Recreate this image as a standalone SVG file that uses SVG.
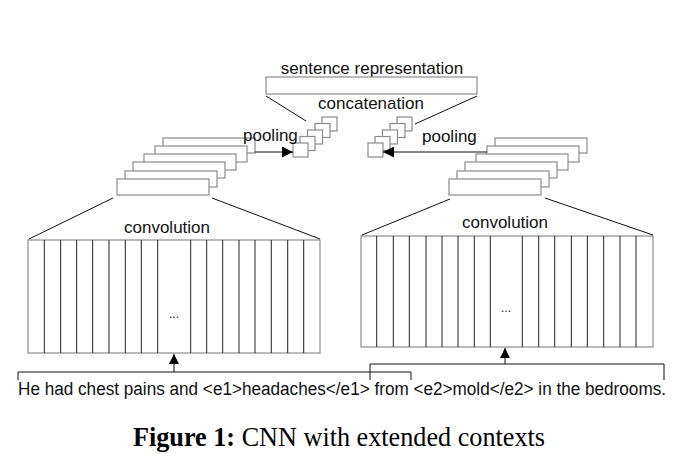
<svg xmlns="http://www.w3.org/2000/svg" width="680" height="469" viewBox="0 0 680 469">
<defs>
<style>
.box{fill:#fff;stroke:#8c8c8c;stroke-width:1.2}
.cell{stroke:#222;stroke-width:1}
.ln{stroke:#111;stroke-width:1;fill:none}
.lbl{font-family:"Liberation Sans",Arial,sans-serif;font-size:17px;fill:#111}
.dots{font-family:"Liberation Sans",Arial,sans-serif;font-size:12px;fill:#111}
</style>
<marker id="ah" viewBox="0 0 10 10" refX="10" refY="5" markerWidth="10" markerHeight="11" markerUnits="userSpaceOnUse" orient="auto"><path d="M0,0 L10,5 L0,10 z" fill="#000"/></marker>
<marker id="ahp" viewBox="0 0 10 10" refX="10" refY="5" markerWidth="15" markerHeight="11" markerUnits="userSpaceOnUse" orient="auto"><path d="M0,0 L10,5 L0,10 z" fill="#000"/></marker>
</defs>
<rect width="680" height="469" fill="#fff"/>

<g id="sentence-representation">
<text class="lbl" x="372" y="74" text-anchor="middle">sentence representation</text>
<rect class="box" x="266" y="77" width="211" height="17"/>
</g>

<g id="concatenation">
<text class="lbl" x="371" y="109" text-anchor="middle">concatenation</text>
</g>

<g id="pool-left">
<rect class="box" x="322" y="117" width="15" height="14"/>
<rect class="box" x="315" y="123.5" width="15" height="14"/>
<rect class="box" x="307.5" y="130" width="15" height="14"/>
<rect class="box" x="300" y="136.5" width="15" height="14"/>
<rect class="box" x="293" y="143" width="15" height="14"/>
</g>

<g id="pool-right">
<rect class="box" x="397" y="117" width="15" height="14"/>
<rect class="box" x="390" y="123.5" width="15" height="14"/>
<rect class="box" x="382.5" y="130" width="15" height="14"/>
<rect class="box" x="375" y="136.5" width="15" height="14"/>
<rect class="box" x="368" y="143" width="15" height="14"/>
</g>

<g id="feature-maps-left">
<rect class="box" x="163" y="138" width="92" height="15"/>
<rect class="box" x="155" y="146" width="92" height="16"/>
<rect class="box" x="144" y="154" width="92" height="16"/>
<rect class="box" x="133" y="162" width="92" height="16"/>
<rect class="box" x="125" y="171" width="92" height="16"/>
<rect class="box" x="117" y="179" width="92" height="16"/>
</g>

<g id="feature-maps-right">
<rect class="box" x="495" y="138" width="92" height="15"/>
<rect class="box" x="487" y="146" width="92" height="16"/>
<rect class="box" x="476" y="154" width="92" height="16"/>
<rect class="box" x="465" y="162" width="92" height="16"/>
<rect class="box" x="457" y="171" width="92" height="16"/>
<rect class="box" x="449" y="179" width="92" height="16"/>
</g>

<g id="pooling-left-label"><text class="lbl" x="243" y="141">pooling</text></g>
<g id="pooling-right-label"><text class="lbl" x="422" y="142">pooling</text></g>

<g id="conv-left">
<text class="lbl" x="167" y="233" text-anchor="middle">convolution</text>
<rect class="box" x="28" y="240" width="292" height="113"/>
<path class="cell" d="M44.3,240V353M60.7,240V353M76.7,240V353M92.7,240V353M109,240V353M125.3,240V353M141.3,240V353M157.7,240V353M190.7,240V353M206.7,240V353M222.7,240V353M239,240V353M255,240V353M271.3,240V353M287.7,240V353M303.7,240V353"/>
<text class="dots" x="174" y="318" text-anchor="middle">...</text>
</g>

<g id="conv-right">
<text class="lbl" x="505" y="228" text-anchor="middle">convolution</text>
<rect class="box" x="361" y="236" width="292" height="111"/>
<path class="cell" d="M376.7,236V347M393.3,236V347M409.3,236V347M426,236V347M442,236V347M458,236V347M474.3,236V347M490.3,236V347M522.3,236V347M538.7,236V347M554.7,236V347M571.3,236V347M587.3,236V347M603.7,236V347M620,236V347M636,236V347"/>
<text class="dots" x="506" y="312" text-anchor="middle">...</text>
</g>

<g id="input-sentence">
<text x="18" y="395" textLength="648" lengthAdjust="spacingAndGlyphs" style="font-family:'Liberation Sans',Arial,sans-serif;font-size:18px;fill:#111">He had chest pains and &lt;e1&gt;headaches&lt;/e1&gt; from &lt;e2&gt;mold&lt;/e2&gt; in the bedrooms.</text>
</g>

<g id="connectors">
<path class="ln" d="M266,96L306,121"/>
<path class="ln" d="M477,96L415,124"/>
<path class="ln" d="M255,152H293" marker-end="url(#ahp)"/>
<path class="ln" d="M487,152H383" marker-end="url(#ahp)"/>
<path class="ln" d="M113,198L29,239"/>
<path class="ln" d="M212,198L320,239"/>
<path class="ln" d="M450,199L362,235"/>
<path class="ln" d="M545,198L653,235"/>
<path class="ln" d="M18,380V372H411V380"/>
<path class="ln" d="M370,380V364H664V380"/>
<path class="ln" d="M174,372V354" marker-end="url(#ah)"/>
<path class="ln" d="M505,364V348" marker-end="url(#ah)"/>
</g>

<g id="caption">
<text x="133" y="446" textLength="412" lengthAdjust="spacingAndGlyphs" style="font-family:'Liberation Serif','Times New Roman',serif;font-size:27px;fill:#000"><tspan font-weight="bold">Figure 1:</tspan> CNN with extended contexts</text>
</g>
</svg>
